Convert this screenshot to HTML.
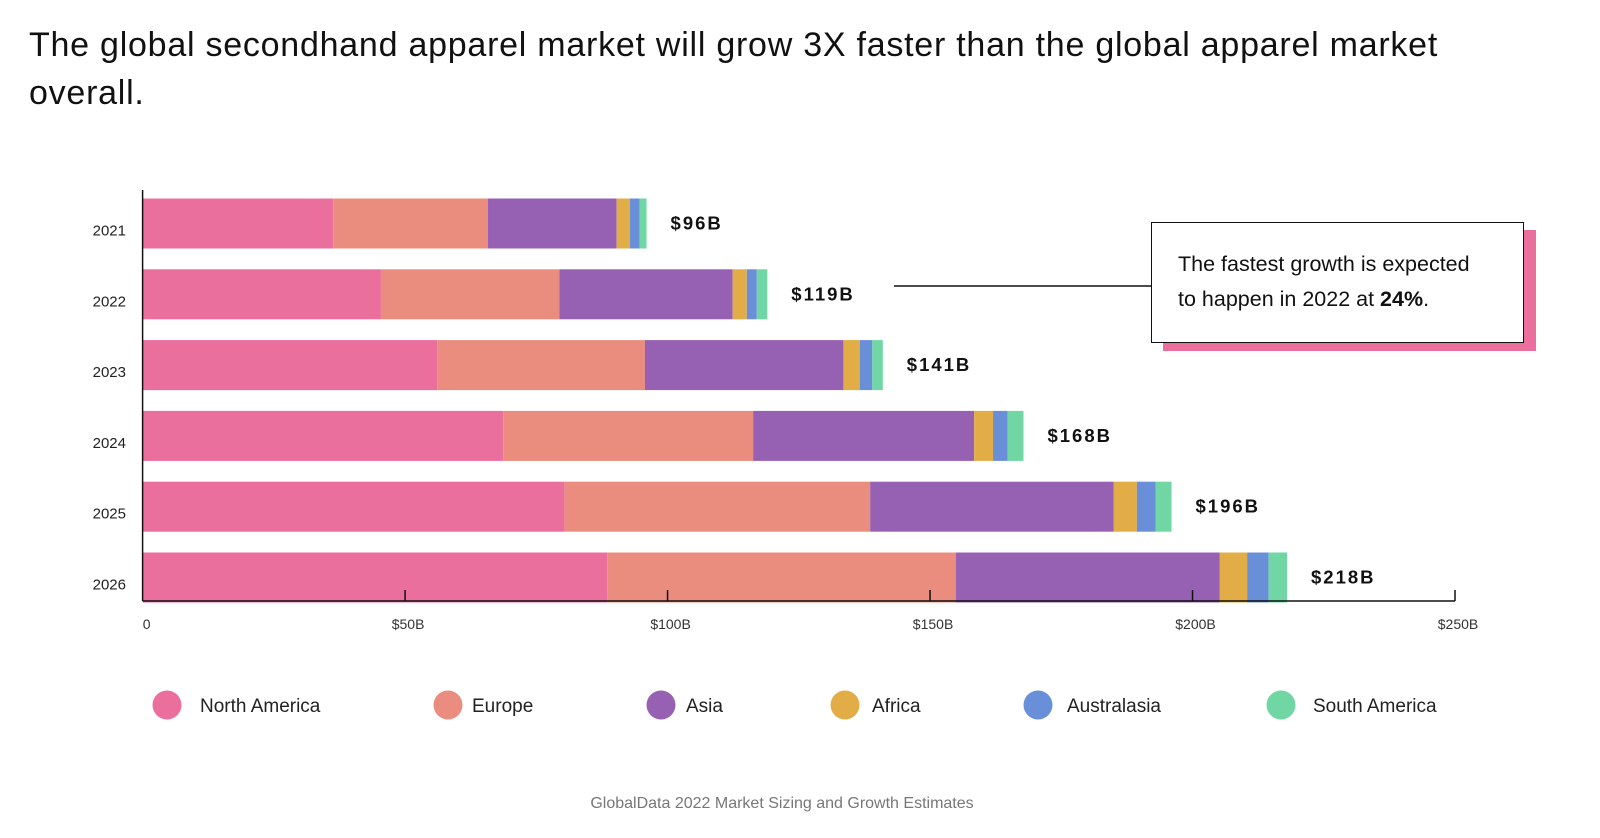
<!DOCTYPE html>
<html><head><meta charset="utf-8"><style>
body{margin:0;width:1600px;height:838px;background:#fff;font-family:"Liberation Sans",sans-serif;overflow:hidden;position:relative}
#title{position:absolute;left:29px;top:21px;font-size:34px;letter-spacing:0.75px;line-height:48px;color:#111;width:1560px}
#callout{position:absolute;left:1151px;top:222px;width:373px;height:121px;border:1.5px solid #111;background:#fff;box-shadow:12px 8px 0 #ea6f9c;box-sizing:border-box;padding:24px 10px 0 26px;font-size:21.5px;line-height:35px;color:#111}
#source{position:absolute;left:0;width:1564px;text-align:center;top:795px;font-size:16px;color:#777}
</style></head><body>
<div id="title">The global secondhand apparel market will grow 3X faster than the global apparel market<br>overall.</div>
<svg id="chart" width="1600" height="838" style="position:absolute;left:0;top:0"></svg>
<div id="callout">The fastest growth is expected<br>to happen in 2022 at <b>24%</b>.</div>
<div id="source">GlobalData 2022 Market Sizing and Growth Estimates</div>
<script>
const years=["2021","2022","2023","2024","2025","2026"];
const northAmerica=[36.3,45.4,56.1,68.7,80.4,88.5];
const europe=[29.5,34,39.6,47.6,58.2,66.4];
const asia=[24.5,33,37.8,42.1,46.4,50.3];
const africa=[2.5,2.7,3.1,3.6,4.4,5.2];
const australasia=[1.9,1.9,2.4,2.8,3.6,4.1];
const southAmerica=[1.3,2,2,3,3,3.5];
const totals=["$96B","$119B","$141B","$168B","$196B","$218B"];
const ticks=[0,50,100,150,200,250];
const tickLabels=["0","$50B","$100B","$150B","$200B","$250B"];
const seriesNames=["North America","Europe","Asia","Africa","Australasia","South America"];
const colors=["#ea6f9c","#ea8d7e","#9660b3","#e2ad47","#6a8fd9","#6fd6a4"];
const series=[northAmerica,europe,asia,africa,australasia,southAmerica];
const NS="http://www.w3.org/2000/svg",svg=document.getElementById('chart');
const X0=142.6,XS=(1455-142.6)/250;
const x=v=>X0+v*XS;
const yTop=i=>198.5+i*70.8;
const BH=50;
function mk(t,a){const e=document.createElementNS(NS,t);for(const k in a)e.setAttribute(k,a[k]);svg.appendChild(e);return e;}
let ln=mk('line',{x1:894,y1:286,x2:1151,y2:286,stroke:'#111','stroke-width':1.5});


years.forEach((yr,i)=>{
  let cum=0;
  series.forEach((s,j)=>{
    const r=mk('rect',{x:x(cum),y:yTop(i),width:s[i]*XS,height:BH,fill:colors[j]});
    
    
    cum+=s[i];
  });
  const t=mk('text',{x:126,y:yTop(i)+BH/2+12,'text-anchor':'end','font-size':15,fill:'#222'});
  t.textContent=yr;
  
  
  const v=mk('text',{x:x(cum)+24,y:yTop(i)+BH/2+6,'font-size':18.5,'font-weight':'bold','letter-spacing':'2',fill:'#111'});
  v.textContent=totals[i];
  
  
});
let ax=mk('line',{x1:X0,y1:190,x2:X0,y2:601,stroke:'#111','stroke-width':1.5});


let bx=mk('line',{x1:X0,y1:601,x2:x(250),y2:601,stroke:'#111','stroke-width':1.5});


ticks.forEach((t,i)=>{
  if(i>0){const tk=mk('line',{x1:x(t),y1:590,x2:x(t),y2:601,stroke:'#111','stroke-width':1.5});
  
  }
  const tl=mk('text',{x:i==0?x(t)+4:x(t)+3,y:629,'text-anchor':'middle','font-size':14,fill:'#333'});
  tl.textContent=tickLabels[i];
  
  
});
const legX=[167,448,661,845,1038,1281];
const legTX=[200,472,686,872,1067,1313];
seriesNames.forEach((n,j)=>{
  const c=mk('circle',{cx:legX[j],cy:705,r:14.5,fill:colors[j]});
  
  
  const t=mk('text',{x:legTX[j],y:712,'font-size':19,fill:'#222'});
  t.textContent=n;
  
  
});
</script>
</body></html>
